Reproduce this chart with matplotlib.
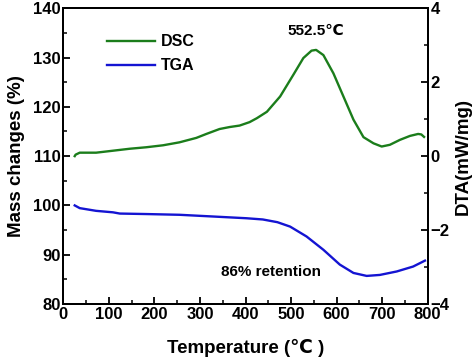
import matplotlib
matplotlib.use('Agg')
import matplotlib.pyplot as plt
from matplotlib.ticker import MultipleLocator

plt.rcParams['font.family'] = ['Liberation Sans', 'DejaVu Sans']
plt.rcParams['font.weight'] = 'bold'

# DSC curve (read on the left axis scale, 110 on the left = 0 mW/mg)
dsc_t = [25, 27, 36, 72, 109, 146, 182, 219, 255, 292, 314, 343, 365, 387,
         409, 425, 447, 476, 505, 527, 545, 555, 571, 593, 615, 637, 659,
         681, 699, 717, 739, 761, 779, 786, 792]
dsc_left = [110.0, 110.3, 110.7, 110.7, 111.1, 111.5, 111.8, 112.2, 112.8,
            113.7, 114.5, 115.5, 115.9, 116.2, 116.9, 117.7, 119.0, 122.1,
            126.5, 129.9, 131.4, 131.55, 130.5, 126.8, 122.1, 117.4, 113.85,
            112.6, 111.95, 112.3, 113.3, 114.1, 114.5, 114.4, 113.9]
dta = [(v - 110) / 7.5 for v in dsc_left]

# TGA curve
tga_t = [25, 27, 36, 72, 109, 124, 182, 255, 329, 402, 438, 470, 498, 534,
         571, 607, 637, 666, 695, 732, 768, 794]
tga_mass = [100.0, 99.9, 99.45, 98.9, 98.6, 98.35, 98.25, 98.1, 97.75, 97.4,
            97.15, 96.6, 95.7, 93.7, 91.0, 88.0, 86.3, 85.7, 85.9, 86.6,
            87.6, 88.8]

fig = plt.figure(figsize=(4.74, 3.62), dpi=100)
ax = fig.add_axes([0.1336, 0.1602, 0.7687, 0.817])
ax2 = ax.twinx()

green = '#1b7d1b'
blue = '#1414d2'

l1, = ax2.plot(dsc_t, dta, color=green, lw=1.7, label='DSC')
l2, = ax.plot(tga_t, tga_mass, color=blue, lw=1.7, label='TGA')

ax.set_xlim(0, 800)
ax.set_ylim(80, 140)
ax2.set_ylim(-4, 4)

ax.xaxis.set_major_locator(MultipleLocator(100))
ax.xaxis.set_minor_locator(MultipleLocator(50))
ax.yaxis.set_major_locator(MultipleLocator(10))
ax.yaxis.set_minor_locator(MultipleLocator(5))
ax2.yaxis.set_major_locator(MultipleLocator(2))
ax2.yaxis.set_minor_locator(MultipleLocator(1))

for a in (ax, ax2):
    a.tick_params(which='major', direction='in', length=5, width=1.3, labelsize=12, pad=2)
    a.tick_params(which='minor', direction='in', length=3, width=1.1)
    for s in a.spines.values():
        s.set_linewidth(1.4)

ax.set_xlabel('Temperature (℃ )', fontsize=13.5, fontweight='bold', labelpad=12)
ax.set_ylabel('Mass changes (%)', fontsize=13.5, fontweight='bold', labelpad=6)
ax2.set_ylabel('DTA(mW/mg)', fontsize=13.5, fontweight='bold', labelpad=4)

ax.legend([l1, l2], ['DSC', 'TGA'], loc='upper left', bbox_to_anchor=(0.08, 0.96),
          frameon=False, fontsize=11.5, handlelength=3.0, handletextpad=0.4,
          labelspacing=0.55)

ax.text(555, 135.4, '552.5℃', ha='center', va='center', fontsize=11, fontweight='bold')
ax.text(457, 86.5, '86% retention', ha='center', va='center', fontsize=11, fontweight='bold')

fig.savefig('out.png', dpi=100)
